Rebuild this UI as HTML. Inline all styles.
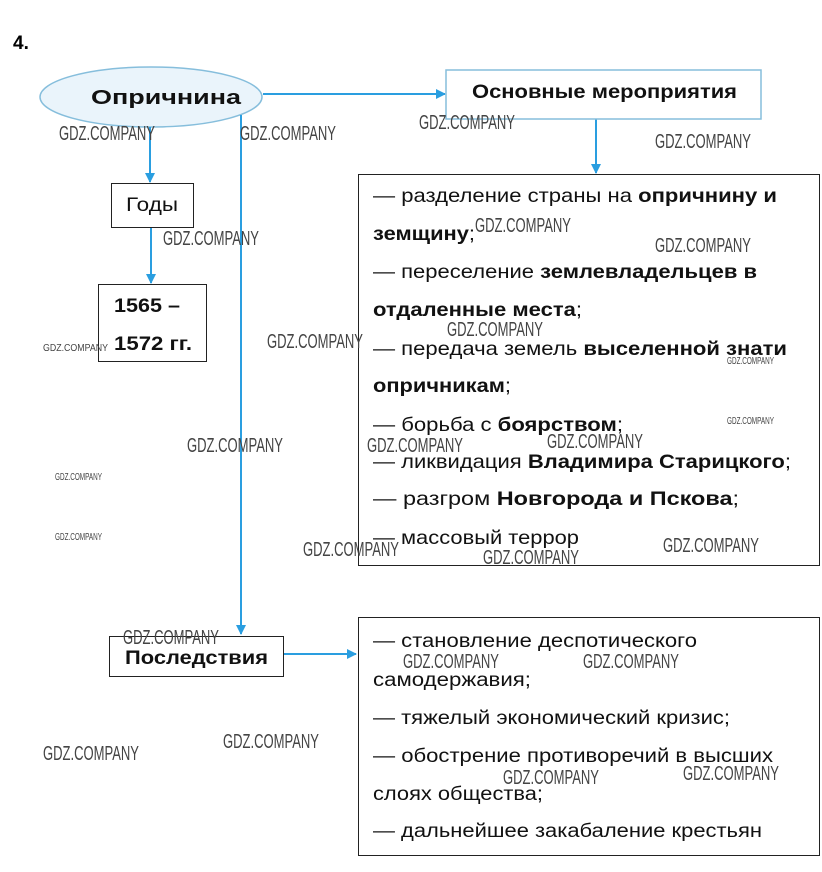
<!DOCTYPE html>
<html><head><meta charset="utf-8"><style>
html,body{margin:0;padding:0;background:#fff;}
svg{display:block;font-family:"Liberation Sans",sans-serif;}
.t{font-size:19px;fill:#111;}
.b{font-weight:bold;}
.w{font-size:20px;fill:#444;}
.ws{font-size:10px;fill:#444;}
</style></head><body>
<svg width="822" height="872" viewBox="0 0 822 872" xmlns="http://www.w3.org/2000/svg">
<defs><marker id="a" markerWidth="10" markerHeight="10" refX="9" refY="5" orient="auto" markerUnits="userSpaceOnUse"><path d="M0,0 L10,5 L0,10 Z" fill="#2a9ee0"/></marker></defs>
<text x="13" y="49" class="b" style="font-size:19px">4.</text>
<ellipse cx="151" cy="97" rx="111" ry="30" fill="#eaf4fb" stroke="#86bedc" stroke-width="1.5"/>
<text x="91" y="104" class="t b" style="font-size:20px" textLength="150" lengthAdjust="spacingAndGlyphs">Опричнина</text>
<g stroke="#2a9ee0" stroke-width="2" fill="none">
<line x1="263" y1="94" x2="445" y2="94" marker-end="url(#a)"/>
<line x1="596" y1="119" x2="596" y2="173" marker-end="url(#a)"/>
<line x1="150" y1="127" x2="150" y2="182" marker-end="url(#a)"/>
<line x1="151" y1="227" x2="151" y2="283" marker-end="url(#a)"/>
<line x1="241" y1="115" x2="241" y2="634" marker-end="url(#a)"/>
<line x1="283" y1="654" x2="356" y2="654" marker-end="url(#a)"/>
</g>
<rect x="446" y="70" width="315" height="49" fill="#fff" stroke="#86bedc" stroke-width="1.5"/>
<text x="472" y="98" class="t b" textLength="265" lengthAdjust="spacingAndGlyphs">Основные мероприятия</text>
<rect x="111.5" y="183.5" width="82" height="44" fill="#fff" stroke="#222"/>
<text x="126" y="211" class="t" textLength="52" lengthAdjust="spacingAndGlyphs">Годы</text>
<rect x="98.5" y="284.5" width="108" height="77" fill="#fff" stroke="#222"/>
<text x="114" y="312" class="t b" textLength="66" lengthAdjust="spacingAndGlyphs">1565 –</text>
<text x="114" y="350" class="t b" textLength="78" lengthAdjust="spacingAndGlyphs">1572 гг.</text>
<rect x="109.5" y="636.5" width="174" height="40" fill="#fff" stroke="#222"/>
<text x="125" y="664" class="t b" textLength="143" lengthAdjust="spacingAndGlyphs">Последствия</text>
<rect x="358.5" y="174.5" width="461" height="391" fill="#fff" stroke="#222"/>
<g class="t" style="font-size:19.5px">
<text x="373" y="202" textLength="404" lengthAdjust="spacingAndGlyphs">— разделение страны на <tspan class="b">опричнину и</tspan></text>
<text x="373" y="240" textLength="102" lengthAdjust="spacingAndGlyphs"><tspan class="b">земщину</tspan>;</text>
<text x="373" y="278" textLength="384" lengthAdjust="spacingAndGlyphs">— переселение <tspan class="b">землевладельцев в</tspan></text>
<text x="373" y="316" textLength="209" lengthAdjust="spacingAndGlyphs"><tspan class="b">отдаленные места</tspan>;</text>
<text x="373" y="355" textLength="414" lengthAdjust="spacingAndGlyphs">— передача земель <tspan class="b">выселенной знати</tspan></text>
<text x="373" y="392" textLength="138" lengthAdjust="spacingAndGlyphs"><tspan class="b">опричникам</tspan>;</text>
<text x="373" y="431" textLength="250" lengthAdjust="spacingAndGlyphs">— борьба с <tspan class="b">боярством</tspan>;</text>
<text x="373" y="468" textLength="418" lengthAdjust="spacingAndGlyphs">— ликвидация <tspan class="b">Владимира Старицкого</tspan>;</text>
<text x="373" y="505" textLength="366" lengthAdjust="spacingAndGlyphs">— разгром <tspan class="b">Новгорода и Пскова</tspan>;</text>
<text x="373" y="544" textLength="206" lengthAdjust="spacingAndGlyphs">— массовый террор</text>
</g>
<rect x="358.5" y="617.5" width="461" height="238" fill="#fff" stroke="#222"/>
<g class="t">
<text x="373" y="647" textLength="324" lengthAdjust="spacingAndGlyphs">— становление деспотического</text>
<text x="373" y="686" textLength="158" lengthAdjust="spacingAndGlyphs">самодержавия;</text>
<text x="373" y="724" textLength="357" lengthAdjust="spacingAndGlyphs">— тяжелый экономический кризис;</text>
<text x="373" y="762" textLength="400" lengthAdjust="spacingAndGlyphs">— обострение противоречий в высших</text>
<text x="373" y="800" textLength="170" lengthAdjust="spacingAndGlyphs">слоях общества;</text>
<text x="373" y="837" textLength="389" lengthAdjust="spacingAndGlyphs">— дальнейшее закабаление крестьян</text>
</g>
<g class="w">
<text x="59" y="140" textLength="96" lengthAdjust="spacingAndGlyphs">GDZ.COMPANY</text>
<text x="240" y="140" textLength="96" lengthAdjust="spacingAndGlyphs">GDZ.COMPANY</text>
<text x="419" y="129" textLength="96" lengthAdjust="spacingAndGlyphs">GDZ.COMPANY</text>
<text x="655" y="148" textLength="96" lengthAdjust="spacingAndGlyphs">GDZ.COMPANY</text>
<text x="163" y="245" textLength="96" lengthAdjust="spacingAndGlyphs">GDZ.COMPANY</text>
<text x="475" y="232" textLength="96" lengthAdjust="spacingAndGlyphs">GDZ.COMPANY</text>
<text x="655" y="252" textLength="96" lengthAdjust="spacingAndGlyphs">GDZ.COMPANY</text>
<text x="267" y="348" textLength="96" lengthAdjust="spacingAndGlyphs">GDZ.COMPANY</text>
<text x="447" y="336" textLength="96" lengthAdjust="spacingAndGlyphs">GDZ.COMPANY</text>
<text x="187" y="452" textLength="96" lengthAdjust="spacingAndGlyphs">GDZ.COMPANY</text>
<text x="367" y="452" textLength="96" lengthAdjust="spacingAndGlyphs">GDZ.COMPANY</text>
<text x="547" y="448" textLength="96" lengthAdjust="spacingAndGlyphs">GDZ.COMPANY</text>
<text x="303" y="556" textLength="96" lengthAdjust="spacingAndGlyphs">GDZ.COMPANY</text>
<text x="483" y="564" textLength="96" lengthAdjust="spacingAndGlyphs">GDZ.COMPANY</text>
<text x="663" y="552" textLength="96" lengthAdjust="spacingAndGlyphs">GDZ.COMPANY</text>
<text x="123" y="644" textLength="96" lengthAdjust="spacingAndGlyphs">GDZ.COMPANY</text>
<text x="403" y="668" textLength="96" lengthAdjust="spacingAndGlyphs">GDZ.COMPANY</text>
<text x="583" y="668" textLength="96" lengthAdjust="spacingAndGlyphs">GDZ.COMPANY</text>
<text x="43" y="760" textLength="96" lengthAdjust="spacingAndGlyphs">GDZ.COMPANY</text>
<text x="223" y="748" textLength="96" lengthAdjust="spacingAndGlyphs">GDZ.COMPANY</text>
<text x="503" y="784" textLength="96" lengthAdjust="spacingAndGlyphs">GDZ.COMPANY</text>
<text x="683" y="780" textLength="96" lengthAdjust="spacingAndGlyphs">GDZ.COMPANY</text>
</g>
<g class="ws">
<text x="43" y="351" textLength="65" lengthAdjust="spacingAndGlyphs">GDZ.COMPANY</text>
<text x="727" y="364" textLength="47" lengthAdjust="spacingAndGlyphs">GDZ.COMPANY</text>
<text x="727" y="424" textLength="47" lengthAdjust="spacingAndGlyphs">GDZ.COMPANY</text>
<text x="55" y="480" textLength="47" lengthAdjust="spacingAndGlyphs">GDZ.COMPANY</text>
<text x="55" y="540" textLength="47" lengthAdjust="spacingAndGlyphs">GDZ.COMPANY</text>
</g>
</svg>
</body></html>
